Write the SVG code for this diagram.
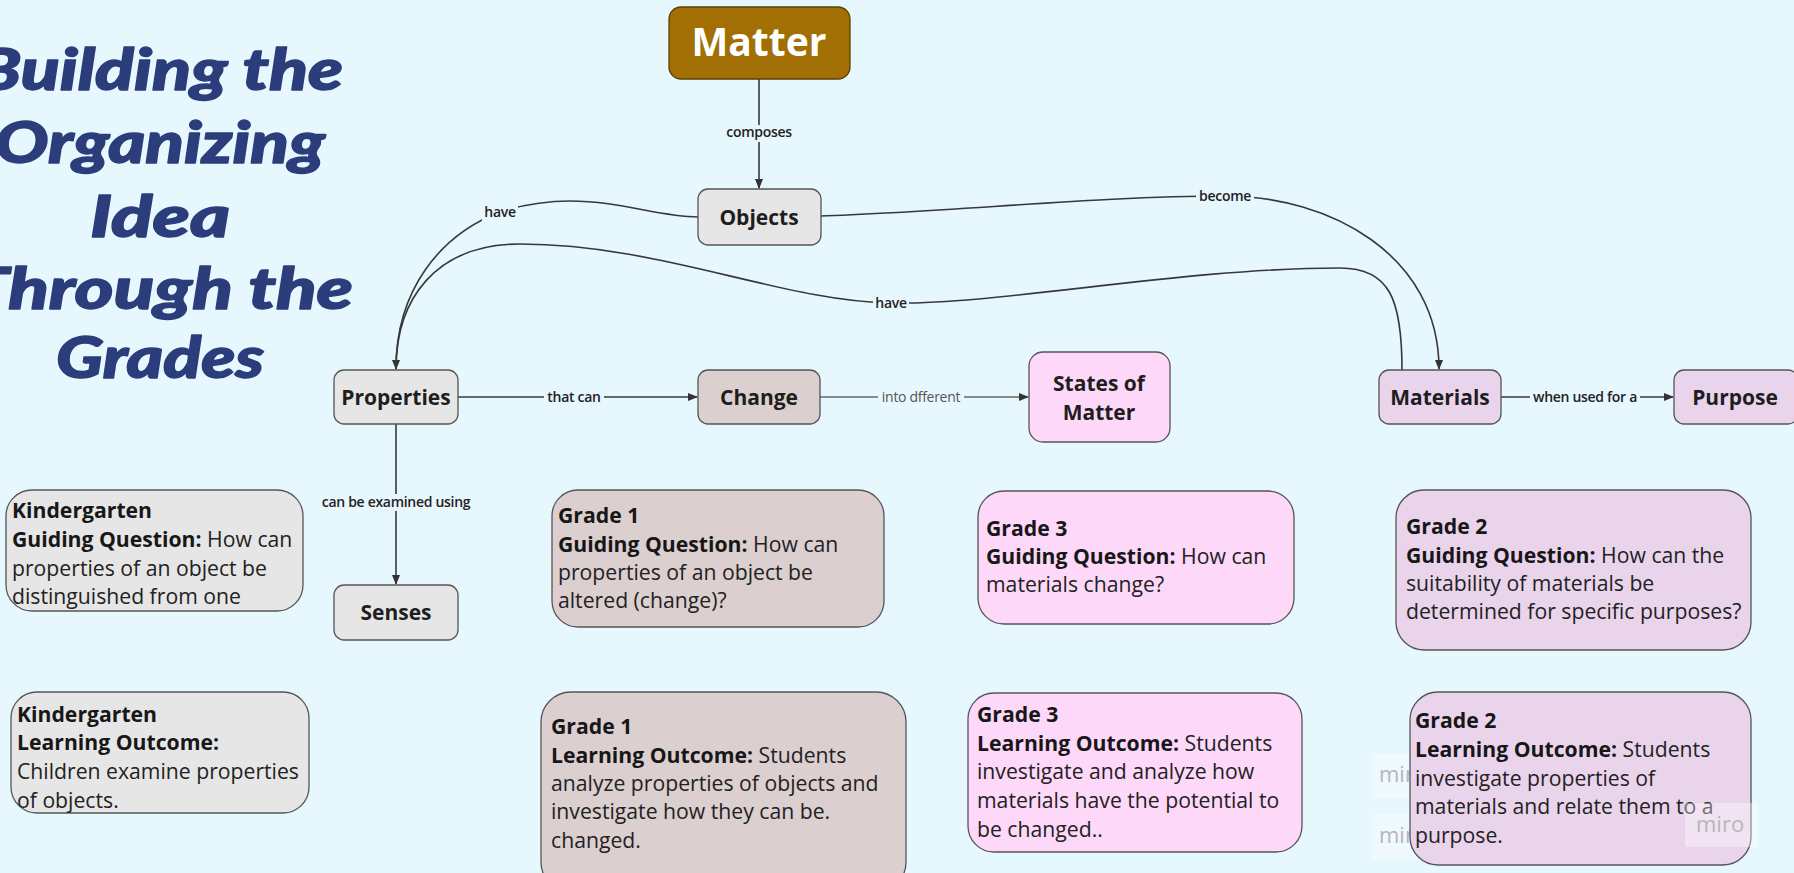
<svg xmlns="http://www.w3.org/2000/svg" width="1794" height="873" viewBox="0 0 1794 873">
  <defs>
    <style>
      .title { font-family: Lato, "Open Sans", sans-serif; font-weight: 900; font-style: italic; font-size: 57px; fill: #2B3D7A; stroke: #2B3D7A; stroke-width: 1.4px; stroke-linejoin: round; text-anchor: middle; }
      .node { stroke: #555; stroke-width: 1.3; }
      .grey { fill: #E6E6E6; }
      .rose { fill: #DCCFD0; }
      .pink { fill: #FDD8F9; }
      .lilac { fill: #EAD4EC; }
      .nlabel { font-family: "Open Sans", sans-serif; font-weight: 700; font-size: 21px; fill: #1E1E1E; text-anchor: middle; }
      .body { font-family: "Open Sans", sans-serif; font-size: 21.2px; fill: #222; }
      .body .b { font-weight: 700; fill: #171717; }
      .clabel { font-family: "Open Sans", sans-serif; font-weight: 600; font-size: 14px; fill: #222; text-anchor: middle; letter-spacing: -0.3px; }
      .clabel.light { font-weight: 400; fill: #555; }
      .lbg { fill: #E7F7FE; }
      .wm { fill: #FFFFFF; opacity: 0.35; }
      .wmt { font-family: "Open Sans", sans-serif; font-size: 22px; fill: #B8B4BE; }
    </style>
    <marker id="arr" viewBox="0 0 10 10" refX="9" refY="5" markerWidth="10" markerHeight="10" markerUnits="userSpaceOnUse" orient="auto">
      <path d="M0,1 L10,5 L0,9 z" fill="#333"/>
    </marker>
    <clipPath id="c-kgq"><rect x="6" y="490" width="297" height="121" rx="26"/></clipPath>
    <clipPath id="c-klo"><rect x="11" y="692" width="298" height="121" rx="26"/></clipPath>
  </defs>

  <!-- canvas -->
  <rect x="0" y="0" width="1794" height="873" fill="#E7F7FE"/>

  <!-- faint board watermarks sitting under the Grade 2 outcome card -->
  <g id="watermarks-under">
    <rect class="wm" x="1372" y="754" width="80" height="44"/>
    <text class="wmt" x="1379" y="782">miro</text>
    <rect class="wm" x="1372" y="814" width="80" height="45"/>
    <text class="wmt" x="1379" y="843">miro</text>
  </g>

  <!-- heading -->
  <g id="title">
    <text class="title" x="160" y="90" textLength="366" lengthAdjust="spacingAndGlyphs">Building the</text>
    <text class="title" x="160" y="163" textLength="330" lengthAdjust="spacingAndGlyphs">Organizing</text>
    <text class="title" x="160" y="237" textLength="140" lengthAdjust="spacingAndGlyphs">Idea</text>
    <text class="title" x="160" y="309" textLength="386" lengthAdjust="spacingAndGlyphs">Through the</text>
    <text class="title" x="160" y="378" textLength="208" lengthAdjust="spacingAndGlyphs">Grades</text>
  </g>

  <!-- connectors -->
  <g id="connectors" fill="none" stroke="#383838" stroke-width="1.6">
    <path d="M759,79 L759,188" marker-end="url(#arr)"/>
    <path d="M698,217 C660,217 620,201 570,201 C545,201 522,205 500,212 C440,235 396,290 396,369" marker-end="url(#arr)"/>
    <path d="M820,216 C950,212 1100,196 1225,196 C1330,196 1439,255 1439,369" marker-end="url(#arr)"/>
    <path d="M1402,370 C1402,300 1390,268 1340,268 C1180,268 1000,305 891,303 C780,301 660,244 520,244 C435,244 396,300 396,369"/>
    <path d="M458,397 L697,397" marker-end="url(#arr)"/>
    <path d="M820,397 L1028,397" stroke="#666" marker-end="url(#arr)"/>
    <path d="M1501,397 L1673,397" marker-end="url(#arr)"/>
    <path d="M396,424 L396,584" marker-end="url(#arr)"/>

    <g id="connector-labels" stroke="none">
      <rect class="lbg" x="725" y="125" width="68" height="17"/>
      <text class="clabel" x="759" y="137">composes</text>
      <rect class="lbg" x="482" y="204" width="36" height="17"/>
      <text class="clabel" x="500" y="217">have</text>
      <rect class="lbg" x="1196" y="188" width="58" height="17"/>
      <text class="clabel" x="1225" y="201">become</text>
      <rect class="lbg" x="873" y="295" width="36" height="17"/>
      <text class="clabel" x="891" y="308">have</text>
      <rect class="lbg" x="544" y="389" width="60" height="17"/>
      <text class="clabel" x="574" y="402">that can</text>
      <rect class="lbg" x="878" y="389" width="86" height="17"/>
      <text class="clabel light" x="921" y="402">into dfferent</text>
      <rect class="lbg" x="1530" y="389" width="110" height="17"/>
      <text class="clabel" x="1585" y="402">when used for a</text>
      <rect class="lbg" x="319" y="494" width="154" height="17"/>
      <text class="clabel" x="396" y="507">can be examined using</text>
    </g>
  </g>

  <!-- concept nodes -->
  <g id="matter">
    <rect x="669" y="7" width="181" height="72" rx="12" fill="#A26F04" stroke="#5a4205" stroke-width="1.3"/>
    <text x="759" y="56" font-family="'Open Sans', sans-serif" font-weight="700" font-size="39" fill="#FFFFFF" text-anchor="middle">Matter</text>
  </g>
  <g id="objects">
    <rect class="node grey" x="698" y="189" width="123" height="56" rx="10"/>
    <text class="nlabel" x="759" y="225">Objects</text>
  </g>
  <g id="properties">
    <rect class="node grey" x="334" y="370" width="124" height="54" rx="10"/>
    <text class="nlabel" x="396" y="405">Properties</text>
  </g>
  <g id="change">
    <rect class="node rose" x="698" y="370" width="122" height="54" rx="10"/>
    <text class="nlabel" x="759" y="405">Change</text>
  </g>
  <g id="states-of-matter">
    <rect class="node pink" x="1029" y="352" width="141" height="90" rx="14"/>
    <text class="nlabel" x="1099" y="391">States of</text>
    <text class="nlabel" x="1099" y="420">Matter</text>
  </g>
  <g id="materials">
    <rect class="node lilac" x="1379" y="370" width="122" height="54" rx="10"/>
    <text class="nlabel" x="1440" y="405">Materials</text>
  </g>
  <g id="purpose">
    <rect class="node lilac" x="1674" y="370" width="124" height="54" rx="10"/>
    <text class="nlabel" x="1735" y="405">Purpose</text>
  </g>
  <g id="senses">
    <rect class="node grey" x="334" y="585" width="124" height="55" rx="10"/>
    <text class="nlabel" x="396" y="620">Senses</text>
  </g>

  <!-- grade cards -->
  <g id="kindergarten-question">
    <rect class="node grey" x="6" y="490" width="297" height="121" rx="26"/>
    <text class="body" clip-path="url(#c-kgq)">
      <tspan class="b" x="12" y="518">Kindergarten</tspan>
      <tspan x="12" y="547"><tspan class="b">Guiding Question:</tspan> How can</tspan>
      <tspan x="12" y="576">properties of an object be</tspan>
      <tspan x="12" y="604">distinguished from one</tspan>
    </text>
  </g>
  <g id="kindergarten-outcome">
    <rect class="node grey" x="11" y="692" width="298" height="121" rx="26"/>
    <text class="body" clip-path="url(#c-klo)">
      <tspan class="b" x="17" y="722">Kindergarten</tspan>
      <tspan class="b" x="17" y="750">Learning Outcome:</tspan>
      <tspan x="17" y="779">Children examine properties</tspan>
      <tspan x="17" y="808">of objects.</tspan>
    </text>
  </g>
  <g id="grade1-question">
    <rect class="node rose" x="552" y="490" width="332" height="137" rx="26"/>
    <text class="body">
      <tspan class="b" x="558" y="523">Grade 1</tspan>
      <tspan x="558" y="552"><tspan class="b">Guiding Question:</tspan> How can</tspan>
      <tspan x="558" y="580">properties of an object be</tspan>
      <tspan x="558" y="608">altered (change)?</tspan>
    </text>
  </g>
  <g id="grade1-outcome">
    <rect class="node rose" x="541" y="692" width="365" height="200" rx="30"/>
    <text class="body">
      <tspan class="b" x="551" y="734">Grade 1</tspan>
      <tspan x="551" y="763"><tspan class="b">Learning Outcome:</tspan> Students</tspan>
      <tspan x="551" y="791">analyze properties of objects and</tspan>
      <tspan x="551" y="819">investigate how they can be.</tspan>
      <tspan x="551" y="848">changed.</tspan>
    </text>
  </g>
  <g id="grade3-question">
    <rect class="node pink" x="978" y="491" width="316" height="133" rx="26"/>
    <text class="body">
      <tspan class="b" x="986" y="536">Grade 3</tspan>
      <tspan x="986" y="564"><tspan class="b">Guiding Question:</tspan> How can</tspan>
      <tspan x="986" y="592">materials change?</tspan>
    </text>
  </g>
  <g id="grade3-outcome">
    <rect class="node pink" x="968" y="693" width="334" height="159" rx="26"/>
    <text class="body">
      <tspan class="b" x="977" y="722">Grade 3</tspan>
      <tspan x="977" y="751"><tspan class="b">Learning Outcome:</tspan> Students</tspan>
      <tspan x="977" y="779">investigate and analyze how</tspan>
      <tspan x="977" y="808">materials have the potential to</tspan>
      <tspan x="977" y="837">be changed..</tspan>
    </text>
  </g>
  <g id="grade2-question">
    <rect class="node lilac" x="1396" y="490" width="355" height="160" rx="28"/>
    <text class="body">
      <tspan class="b" x="1406" y="534">Grade 2</tspan>
      <tspan x="1406" y="563"><tspan class="b">Guiding Question:</tspan> How can the</tspan>
      <tspan x="1406" y="591">suitability of materials be</tspan>
      <tspan x="1406" y="619">determined for specific purposes?</tspan>
    </text>
  </g>
  <g id="grade2-outcome">
    <rect class="node lilac" x="1410" y="692" width="341" height="173" rx="28"/>
    <text class="body">
      <tspan class="b" x="1415" y="728">Grade 2</tspan>
      <tspan x="1415" y="757"><tspan class="b">Learning Outcome:</tspan> Students</tspan>
      <tspan x="1415" y="786">investigate properties of</tspan>
      <tspan x="1415" y="814">materials and relate them to a</tspan>
      <tspan x="1415" y="843">purpose.</tspan>
    </text>
  </g>

  <!-- board watermark drawn over the card -->
  <g id="watermark-over">
    <rect class="wm" x="1685" y="803" width="73" height="44"/>
    <text class="wmt" x="1696" y="832">miro</text>
  </g>
</svg>
